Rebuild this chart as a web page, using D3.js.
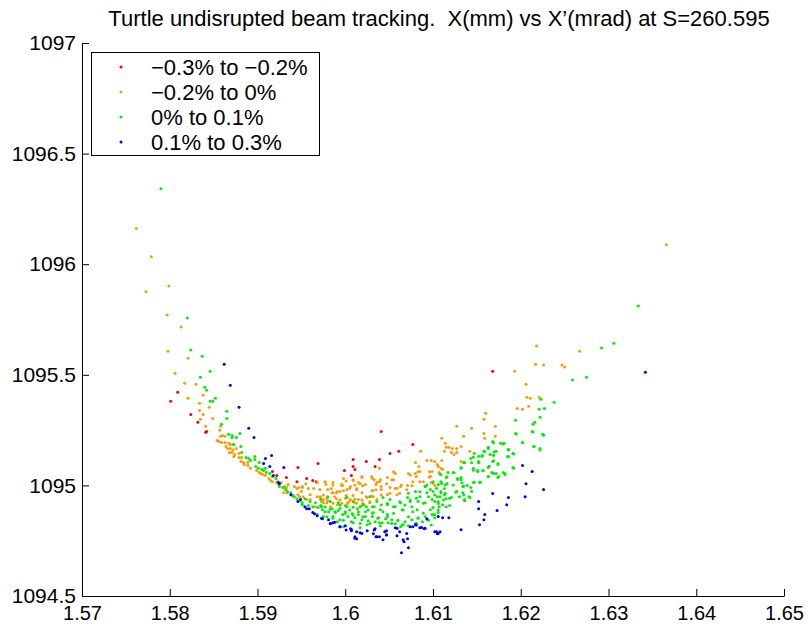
<!DOCTYPE html>
<html>
<head>
<meta charset="utf-8">
<script src="https://cdn.jsdelivr.net/npm/d3@7"></script>
<style>
  body { margin: 0; background: #fff; }
  svg text { font-family: "Liberation Sans", Arial, sans-serif; fill: #000; }
</style>
</head>
<body>
<div id="chart"></div>
<script>
const width = 808;
const height = 628;
const margin = {top: 43, right: 24, bottom: 32, left: 82};

const title = "Turtle undisrupted beam tracking.  X(mm) vs X\u2019(mrad) at S=260.595";
const xTicks = [1.57, 1.58, 1.59, 1.6, 1.61, 1.62, 1.63, 1.64, 1.65];
const yTicks = [1094.5, 1095, 1095.5, 1096, 1096.5, 1097];

const seriesNames = ["\u22120.3% to \u22120.2%", "\u22120.2% to 0%", "0% to 0.1%", "0.1% to 0.3%"];
const seriesColors = ["#ff0000", "#ff9900", "#00ee00", "#0000ff"];

// [X (mm), X' (mrad)]
const redPts = [
  [1.5801,1095.380],[1.5809,1095.421],[1.5824,1095.321],[1.5832,1095.285],[1.5842,1095.244],
  [1.5841,1095.240],[1.5917,1095.063],[1.5922,1095.045],[1.5933,1095.036],[1.5945,1095.017],
  [1.5946,1095.081],[1.5956,1095.031],[1.5963,1095.022],[1.5967,1095.017],[1.5969,1095.099],
  [1.5999,1095.067],[1.6007,1095.045],[1.6009,1095.117],[1.6009,1095.086],[1.6011,1095.072],
  [1.6024,1095.108],[1.6034,1095.086],[1.6039,1095.117],[1.6041,1095.244],[1.6051,1095.144],
  [1.6061,1095.154],[1.6077,1095.185],[1.6168,1095.516]
];

const orangePts = [
  [1.5762,1096.161],[1.5779,1096.034],[1.5773,1095.875],[1.5799,1095.902],[1.5797,1095.770],
  [1.5813,1095.716],[1.5798,1095.607],[1.5821,1095.575],[1.5806,1095.507],[1.5817,1095.462],
  [1.5830,1095.457],[1.5821,1095.394],[1.5838,1095.407],[1.5834,1095.371],[1.5845,1095.353],
  [1.5834,1095.339],[1.5838,1095.321],[1.5849,1095.303],[1.5835,1095.299],[1.5841,1095.267],
  [1.5858,1095.267],[1.5857,1095.249],[1.5854,1095.203],[1.5858,1095.222],[1.5860,1095.226],
  [1.5863,1095.222],[1.5856,1095.199],[1.5859,1095.194],[1.5863,1095.194],[1.5867,1095.190],
  [1.5869,1095.185],[1.5872,1095.185],[1.5864,1095.176],[1.5866,1095.167],[1.5869,1095.167],
  [1.5872,1095.160],[1.5876,1095.167],[1.5868,1095.149],[1.5871,1095.149],[1.5874,1095.140],
  [1.5879,1095.144],[1.5873,1095.131],[1.5879,1095.126],[1.5882,1095.126],[1.5881,1095.108],
  [1.5884,1095.104],[1.5889,1095.104],[1.5885,1095.095],[1.5889,1095.090],[1.5892,1095.077],
  [1.5899,1095.067],[1.5902,1095.058],[1.5904,1095.054],[1.5906,1095.049],[1.5909,1095.045],
  [1.5913,1095.031],[1.5915,1095.022],[1.5917,1095.017],[1.5922,1095.013],[1.5924,1095.004],
  [1.5927,1095.013],[1.5931,1094.995],[1.5933,1094.990],[1.5935,1095.004],[1.5942,1094.995],
  [1.5945,1094.986],[1.5947,1094.990],[1.5930,1094.967],[1.5934,1094.967],[1.5940,1094.954],
  [1.5946,1094.958],[1.5951,1094.990],[1.5958,1094.986],[1.5964,1094.986],[1.5971,1094.981],
  [1.5978,1095.004],[1.5984,1094.986],[1.5991,1094.972],[1.5996,1095.004],[1.6006,1094.995],
  [1.6013,1094.986],[1.6019,1095.036],[1.6023,1095.004],[1.6031,1095.031],[1.6035,1095.004],
  [1.6039,1095.077],[1.5998,1095.031],[1.5986,1095.013],[1.5952,1094.949],[1.5960,1094.936],
  [1.5972,1094.945],[1.5980,1094.931],[1.5990,1094.940],[1.6001,1094.954],[1.6009,1094.954],
  [1.6015,1094.936],[1.6025,1094.945],[1.6036,1094.936],[1.6003,1094.922],[1.6028,1094.922],
  [1.6080,1095.104],[1.6086,1095.154],[1.6093,1095.113],[1.6098,1095.113],[1.6102,1095.108],
  [1.6106,1095.086],[1.6084,1095.086],[1.6072,1095.054],[1.6080,1095.054],[1.6085,1095.063],
  [1.6099,1095.063],[1.6107,1095.058],[1.6077,1095.017],[1.6089,1095.017],[1.6098,1095.013],
  [1.6102,1094.999],[1.6057,1095.054],[1.6048,1095.036],[1.6055,1095.026],[1.6040,1095.026],
  [1.6036,1095.013],[1.6030,1095.040],[1.6015,1095.013],[1.6019,1095.040],[1.6009,1095.022],
  [1.5997,1094.999],[1.5977,1095.017],[1.5968,1095.013],[1.5955,1095.008],[1.5951,1094.995],
  [1.6051,1094.990],[1.6057,1094.986],[1.6063,1094.995],[1.6071,1094.999],[1.6041,1094.981],
  [1.6031,1094.977],[1.6019,1094.967],[1.6002,1094.981],[1.5994,1094.972],[1.5986,1094.967],
  [1.5980,1094.981],[1.5950,1094.972],[1.5960,1094.958],[1.5968,1094.949],[1.5975,1094.936],
  [1.6006,1094.936],[1.6032,1094.949],[1.6048,1094.958],[1.6059,1094.958],[1.6011,1094.922],
  [1.6019,1094.909],[1.6000,1094.909],[1.5991,1094.913],[1.5983,1094.904],[1.5975,1094.922],
  [1.5966,1094.904],[1.5956,1094.936],[1.5948,1094.949],
  [1.6196,1095.348],[1.6202,1095.344],[1.6209,1095.358],[1.6160,1095.326],[1.6158,1095.299],
  [1.6127,1095.267],[1.6144,1095.258],[1.6171,1095.267],[1.6158,1095.235],[1.6171,1095.222],
  [1.6135,1095.222],[1.6159,1095.213],[1.6110,1095.213],[1.6114,1095.190],[1.6115,1095.172],
  [1.6118,1095.172],[1.6122,1095.167],[1.6127,1095.167],[1.6132,1095.176],[1.6113,1095.154],
  [1.6121,1095.149],[1.6124,1095.140],[1.6127,1095.149],[1.6142,1095.154],[1.6105,1095.095],
  [1.6110,1095.113],[1.6109,1095.077],[1.6111,1095.072],[1.6132,1095.108],[1.6136,1095.104],
  [1.6097,1095.040],
  [1.6366,1096.088],[1.6218,1095.630],[1.6267,1095.607],[1.6217,1095.548],[1.6226,1095.544],
  [1.6247,1095.544],[1.6250,1095.535],[1.6193,1095.516],[1.6206,1095.457],[1.6207,1095.398],
  [1.6211,1095.394],[1.6221,1095.398],
  [1.5977,1095.014],[1.5986,1095.002],[1.5996,1094.998],[1.6001,1095.020],[1.6009,1095.025],
  [1.6011,1095.002],[1.6017,1095.007],[1.6020,1094.998],[1.6013,1094.980],[1.6005,1094.987],
  [1.5998,1094.976],[1.5990,1094.967],[1.5985,1094.967],[1.5975,1094.957],[1.5971,1094.949],
  [1.5979,1094.942],[1.5988,1094.949],[1.5994,1094.934],[1.6000,1094.942],[1.6005,1094.931],
  [1.6011,1094.937],[1.6019,1094.934],[1.6024,1094.949],[1.6030,1094.952],[1.6028,1094.926],
  [1.6020,1094.919],[1.6013,1094.919],[1.6003,1094.919],[1.5996,1094.919],[1.5986,1094.919],
  [1.5979,1094.922],[1.5973,1094.926],[1.6035,1094.980],[1.6041,1094.995],[1.6047,1095.007],
  [1.6053,1095.025],[1.6059,1094.987],[1.6064,1095.002],[1.6070,1094.980],[1.6076,1094.998],
  [1.6081,1095.040],[1.6085,1095.016],[1.6091,1094.995],[1.6096,1095.037],[1.6033,1095.025],
  [1.6039,1095.016],[1.6074,1095.047],[1.6083,1095.062],[1.6055,1095.062],[1.6096,1095.062],
  [1.6051,1094.964],[1.6062,1094.964],[1.6041,1094.957],[1.6031,1094.976],[1.6100,1095.010]
];

const greenPts = [
  [1.5790,1096.341],[1.5820,1095.757],[1.5824,1095.612],[1.5837,1095.584],[1.5846,1095.516],
  [1.5835,1095.489],[1.5840,1095.444],[1.5842,1095.430],[1.5852,1095.394],[1.5846,1095.380],
  [1.5849,1095.380],[1.5865,1095.335],[1.5865,1095.303],[1.5859,1095.276],
  [1.5867,1095.231],[1.5871,1095.226],[1.5871,1095.217],[1.5876,1095.217],[1.5880,1095.235],
  [1.5873,1095.185],[1.5881,1095.176],[1.5882,1095.149],[1.5887,1095.126],[1.5890,1095.122],
  [1.5892,1095.113],[1.5897,1095.131],[1.5897,1095.117],[1.5902,1095.104],[1.5898,1095.086],
  [1.5901,1095.077],[1.5905,1095.072],[1.5907,1095.067],[1.5909,1095.077],[1.5910,1095.058],
  [1.5914,1095.054],[1.5917,1095.040],[1.5921,1095.031],[1.5923,1095.017],[1.5925,1094.995],
  [1.5929,1094.990],[1.5932,1094.981],[1.5934,1094.972],[1.5938,1094.967],[1.5940,1094.954],
  [1.5942,1094.949],[1.5945,1094.940],[1.5948,1094.931],[1.5951,1094.922],
  [1.5951,1094.913],[1.5958,1094.909],[1.5963,1094.904],[1.5966,1094.922],[1.5969,1094.900],
  [1.5974,1094.890],[1.5977,1094.904],[1.5981,1094.881],[1.5985,1094.895],[1.5989,1094.877],
  [1.5992,1094.886],[1.5997,1094.868],[1.6000,1094.881],[1.6003,1094.859],[1.6008,1094.872],
  [1.6011,1094.854],[1.6015,1094.868],[1.6019,1094.845],[1.6023,1094.859],[1.6026,1094.840],
  [1.6031,1094.859],[1.6034,1094.836],[1.6038,1094.854],[1.6042,1094.831],[1.6046,1094.849],
  [1.6049,1094.831],[1.6053,1094.845],[1.6057,1094.827],[1.6060,1094.840],[1.6065,1094.822],
  [1.6068,1094.836],[1.6072,1094.818],[1.6076,1094.845],[1.6080,1094.827],[1.6083,1094.854],
  [1.6088,1094.836],[1.6091,1094.859],[1.6094,1094.845],[1.6099,1094.868],[1.6102,1094.854],
  [1.6106,1094.877],[1.6071,1094.945],[1.6080,1094.972],[1.6093,1094.967],[1.6100,1095.017],
  [1.6106,1095.004],[1.6083,1094.927],[1.6091,1094.922],[1.6099,1094.936],[1.6076,1094.904],
  [1.6065,1094.890],[1.6055,1094.904],[1.6048,1094.913],[1.6040,1094.890],[1.6031,1094.904],
  [1.6023,1094.881],[1.6014,1094.895],[1.6002,1094.904],[1.5992,1094.922],[1.5983,1094.927],
  [1.5972,1094.936],[1.5960,1094.927],[1.5954,1094.940],[1.5986,1094.859],[1.5994,1094.845],
  [1.6009,1094.831],[1.6025,1094.822],[1.6040,1094.818],[1.6063,1094.813],[1.5998,1094.813],
  [1.6017,1094.809],[1.5991,1094.836],[1.5975,1094.859],[1.5968,1094.868],[1.6032,1094.877],
  [1.6048,1094.868],[1.6082,1094.890],[1.6100,1094.900],[1.6105,1094.949],[1.6097,1094.981],
  [1.6091,1094.995],[1.6085,1094.949],[1.6074,1094.927],[1.6063,1094.922],[1.6051,1094.936],
  [1.6043,1094.945],[1.6036,1094.927],[1.6028,1094.949],[1.6021,1094.913],[1.6009,1094.927],
  [1.6002,1094.945],[1.5980,1094.949],[1.5972,1094.909],
  [1.6223,1095.389],[1.6238,1095.376],[1.6227,1095.348],[1.6221,1095.344],[1.6222,1095.308],
  [1.6216,1095.285],[1.6214,1095.276],[1.6194,1095.294],[1.6213,1095.244],[1.6225,1095.231],
  [1.6194,1095.235],[1.6202,1095.194],[1.6177,1095.190],[1.6181,1095.190],[1.6168,1095.199],
  [1.6163,1095.172],[1.6172,1095.154],[1.6165,1095.140],[1.6169,1095.135],[1.6156,1095.135],
  [1.6147,1095.144],[1.6158,1095.154],[1.6186,1095.163],[1.6191,1095.144],[1.6185,1095.131],
  [1.6222,1095.167],[1.6215,1095.176],[1.6174,1095.099],[1.6168,1095.108],[1.6143,1095.122],
  [1.6135,1095.104],[1.6152,1095.108],[1.6132,1095.081],[1.6146,1095.077],[1.6151,1095.067],
  [1.6157,1095.067],[1.6163,1095.081],[1.6167,1095.058],[1.6180,1095.058],[1.6182,1095.049],
  [1.6175,1095.040],[1.6163,1095.040],[1.6191,1095.081],[1.6117,1095.058],[1.6123,1095.058],
  [1.6109,1095.049],[1.6115,1095.036],[1.6109,1095.017],[1.6128,1095.031],[1.6132,1095.036],
  [1.6153,1095.013],[1.6146,1095.013],[1.6139,1094.999],[1.6134,1094.995],[1.6144,1094.972],
  [1.6127,1094.972],[1.6134,1094.967],[1.6130,1094.949],[1.6136,1094.936],[1.6141,1094.949],
  [1.6121,1094.945],[1.6108,1094.949],[1.6113,1094.958],[1.6115,1094.940],[1.6102,1094.927],
  [1.6106,1094.918],[1.6111,1094.913],[1.6107,1094.904],[1.6115,1094.904],[1.6119,1094.909],
  [1.6102,1094.868],[1.6097,1094.890],[1.6109,1094.967],[1.6113,1094.986],[1.6100,1094.972],
  [1.6334,1095.811],[1.6306,1095.643],[1.6292,1095.621],[1.6275,1095.489],[1.6259,1095.476],
  [1.5973,1094.904],[1.5977,1094.881],[1.5983,1094.892],[1.5988,1094.881],[1.5994,1094.896],
  [1.6000,1094.874],[1.6005,1094.889],[1.6009,1094.866],[1.6015,1094.881],[1.6020,1094.858],
  [1.6026,1094.889],[1.6031,1094.874],[1.6037,1094.851],[1.6043,1094.881],[1.6048,1094.858],
  [1.6055,1094.874],[1.6060,1094.843],[1.6066,1094.889],[1.6072,1094.858],[1.6077,1094.881],
  [1.6083,1094.851],[1.6089,1094.874],[1.6095,1094.843],[1.6100,1094.866],[1.6106,1094.889],
  [1.6074,1094.934],[1.6081,1094.942],[1.6089,1094.919],[1.6095,1094.949],[1.6102,1094.957],
  [1.6106,1094.926],[1.6062,1094.926],[1.6068,1094.911],[1.6057,1094.904],[1.6048,1094.919],
  [1.6041,1094.911],[1.6033,1094.904],[1.6024,1094.904],[1.6017,1094.904],[1.6009,1094.901],
  [1.6001,1094.907],[1.5994,1094.911],[1.5979,1094.858],[1.5986,1094.851],[1.5998,1094.843],
  [1.6007,1094.836],[1.6017,1094.828],[1.6028,1094.828],[1.6039,1094.831],[1.6053,1094.828],
  [1.6066,1094.821],[1.6081,1094.828],[1.6098,1094.821],[1.6072,1094.964],[1.6085,1094.971],
  [1.6093,1095.002],[1.6104,1094.987],
  [1.6195,1095.232],[1.6214,1095.241],[1.6226,1095.227],[1.6169,1095.193],[1.6180,1095.187],
  [1.6202,1095.193],[1.6215,1095.175],[1.6222,1095.160],[1.6163,1095.167],[1.6170,1095.152],
  [1.6186,1095.160],[1.6192,1095.142],[1.6159,1095.152],[1.6156,1095.132],[1.6169,1095.137],
  [1.6186,1095.129],[1.6146,1095.127],[1.6152,1095.132],[1.6169,1095.111],[1.6174,1095.095],
  [1.6164,1095.087],[1.6152,1095.102],[1.6144,1095.102],[1.6136,1095.102],[1.6132,1095.077],
  [1.6124,1095.057],[1.6146,1095.069],[1.6151,1095.063],[1.6157,1095.066],[1.6169,1095.054],
  [1.6172,1095.054],[1.6182,1095.054],[1.6192,1095.077],[1.6163,1095.039],[1.6174,1095.036],
  [1.6116,1095.039],[1.6108,1095.051],[1.6128,1095.027],[1.6132,1095.027],[1.6116,1095.009],
  [1.6110,1095.009],[1.6114,1095.002],[1.6123,1095.002],[1.6133,1095.012],[1.6147,1095.014],
  [1.6154,1095.014],[1.6135,1094.997],[1.6143,1094.990],[1.6126,1094.969],[1.6109,1094.972],
  [1.6114,1094.964],[1.6135,1094.957],[1.6142,1094.945],[1.6119,1094.942],[1.6136,1094.931],
  [1.6112,1094.934]
];

const bluePts = [
  [1.5862,1095.548],[1.5869,1095.453],[1.5879,1095.353],[1.5890,1095.258],[1.5896,1095.217],
  [1.5916,1095.135],[1.5909,1095.122],[1.5907,1095.099],[1.5914,1095.086],[1.5930,1095.081],
  [1.5918,1095.045],[1.5924,1095.013],[1.5925,1095.008],[1.5938,1094.958],[1.5946,1094.927],
  [1.5949,1094.936],[1.5954,1094.904],[1.5956,1094.895],[1.5959,1094.895],[1.5963,1094.877],
  [1.5965,1094.872],[1.5968,1094.863],[1.5974,1094.849],[1.5981,1094.845],[1.5983,1094.827],
  [1.5986,1094.831],[1.5994,1094.813],[1.6000,1094.818],[1.6006,1094.804],[1.6007,1094.795],
  [1.6011,1094.768],[1.6013,1094.759],[1.6017,1094.786],[1.6025,1094.795],[1.6032,1094.781],
  [1.6034,1094.804],[1.6036,1094.768],[1.6039,1094.768],[1.6043,1094.754],[1.6047,1094.795],
  [1.6047,1094.777],[1.6057,1094.809],[1.6059,1094.772],[1.6066,1094.754],[1.6067,1094.745],
  [1.6071,1094.759],[1.6072,1094.718],[1.6064,1094.695],[1.6080,1094.822],[1.6077,1094.813],
  [1.6085,1094.809],[1.6090,1094.804],[1.6093,1094.849],[1.6105,1094.781],[1.6106,1094.859],
  [1.6202,1095.090],[1.6213,1095.063],[1.6206,1095.008],[1.6226,1094.981],[1.6186,1094.945],
  [1.6205,1094.949],[1.6168,1094.963],[1.6152,1094.927],[1.6152,1094.895],[1.6173,1094.886],
  [1.6184,1094.913],[1.6159,1094.868],[1.6158,1094.845],[1.6153,1094.822],[1.6111,1094.854],
  [1.6118,1094.854],[1.6102,1094.790],[1.6108,1094.790],[1.6132,1094.799],[1.6342,1095.512],
  [1.5973,1094.851],[1.5983,1094.828],[1.5988,1094.833],[1.5994,1094.813],[1.6001,1094.798],
  [1.6007,1094.801],[1.6013,1094.790],[1.6019,1094.783],[1.6033,1094.798],[1.6035,1094.768],
  [1.6045,1094.790],[1.6047,1094.776],[1.6059,1094.806],[1.6062,1094.790],[1.6070,1094.783],
  [1.6074,1094.813],[1.6081,1094.821],[1.6087,1094.810],[1.6091,1094.806],[1.6104,1094.790],
  [1.6106,1094.783],[1.6011,1094.761]
];

const allSeries = [redPts, orangePts, greenPts, bluePts];

document.addEventListener("DOMContentLoaded", draw);

function draw() {
    const svg = d3.select("#chart").append("svg")
        .attr("width", width)
        .attr("height", height);

    const x = d3.scaleLinear()
        .domain([1.57, 1.65])
        .range([margin.left, width - margin.right]);
    const y = d3.scaleLinear()
        .domain([1094.5, 1097])
        .range([height - margin.bottom, margin.top]);

    svg.append("text")
        .attr("x", 439)
        .attr("y", 26)
        .attr("text-anchor", "middle")
        .attr("xml:space", "preserve")
        .style("white-space", "pre")
        .style("font-size", "22px")
        .text(title);

    // points, later series drawn on top
    allSeries.forEach((pts, i) => {
        svg.append("g")
            .selectAll("circle")
            .data(pts)
            .enter()
            .append("circle")
            .attr("cx", d => x(d[0]))
            .attr("cy", d => y(d[1]))
            .attr("r", 1.5)
            .attr("fill", seriesColors[i]);
    });

    const xAxis = svg.append("g")
        .attr("transform", "translate(0," + (height - margin.bottom) + ")")
        .call(d3.axisBottom(x)
            .tickValues(xTicks)
            .tickFormat(d => String(d))
            .tickSizeInner(-7)
            .tickSizeOuter(0)
            .tickPadding(10));
    const yAxis = svg.append("g")
        .attr("transform", "translate(" + margin.left + ",0)")
        .call(d3.axisLeft(y)
            .tickValues(yTicks)
            .tickFormat(d => String(d))
            .tickSizeInner(-7)
            .tickSizeOuter(0)
            .tickPadding(6));
    [xAxis, yAxis].forEach(a => {
        a.selectAll("text").style("font-family", '"Liberation Sans", Arial, sans-serif').attr("fill", "#000");
        a.selectAll("line").attr("stroke", "#000");
        a.select(".domain").attr("stroke", "#000");
    });
    xAxis.selectAll("text").style("font-size", "20px");
    yAxis.selectAll("text").style("font-size", "21px");

    // legend
    const lg = svg.append("g");
    lg.append("rect")
        .attr("x", 91.5).attr("y", 52.5)
        .attr("width", 228).attr("height", 103)
        .attr("fill", "#fff").attr("stroke", "#000");
    seriesNames.forEach((name, i) => {
        const ry = 67 + i * 25;
        lg.append("circle")
            .attr("cx", 121).attr("cy", ry).attr("r", 1.5)
            .attr("fill", seriesColors[i]);
        lg.append("text")
            .attr("x", 151).attr("y", ry)
            .attr("dy", "0.36em")
            .style("font-size", "22px")
            .text(name);
    });
}
</script>
</body>
</html>
